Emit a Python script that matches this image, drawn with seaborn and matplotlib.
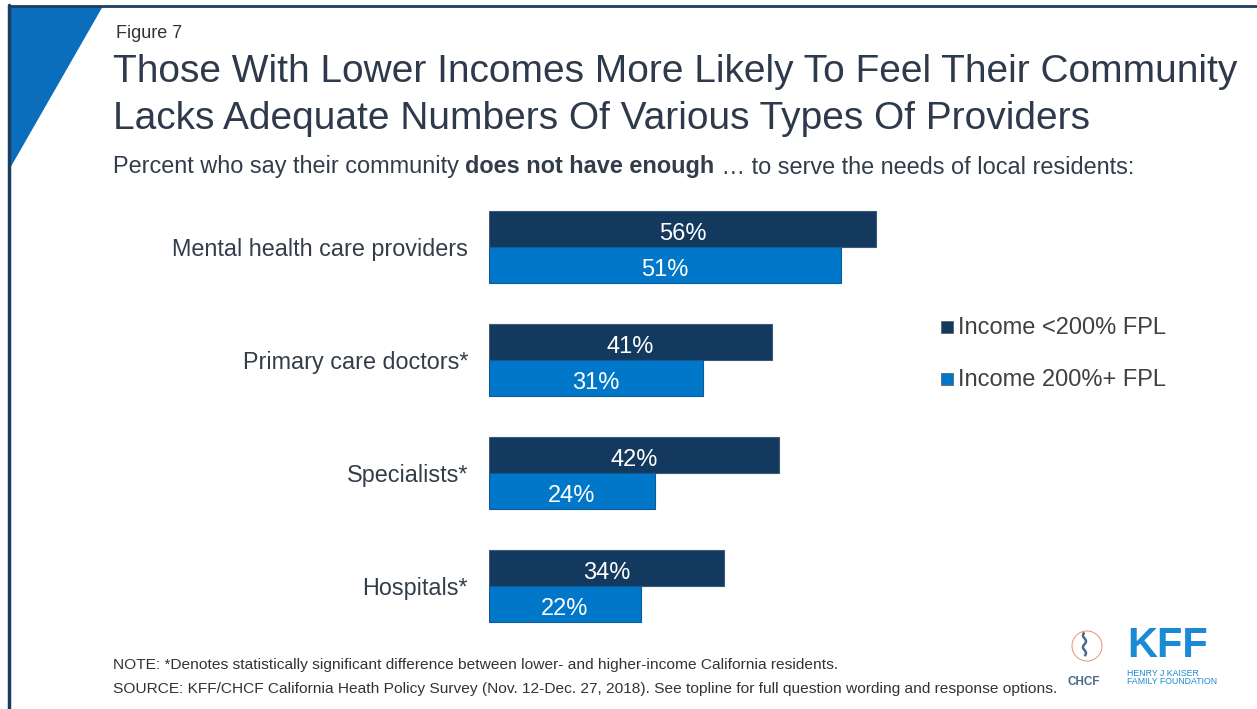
import matplotlib
matplotlib.use("Agg")
import matplotlib.pyplot as plt
import seaborn as sns
import pandas as pd
from matplotlib.patches import Polygon, Rectangle, Ellipse

sns.set_theme(style="white")
plt.rcParams['font.family'] = ['Liberation Sans', 'DejaVu Sans']

categories = ["Mental health care providers", "Primary care doctors*", "Specialists*", "Hospitals*"]
series_names = ["Income <200% FPL", "Income 200%+ FPL"]
low_income = [56, 41, 42, 34]
high_income = [51, 31, 24, 22]
colors = ["#133a5e", "#0077c8"]

df = pd.DataFrame({
    "category": categories * 2,
    "group": [series_names[0]] * 4 + [series_names[1]] * 4,
    "value": low_income + high_income,
})

W, H = 1257, 709
fig = plt.figure(figsize=(W / 100, H / 100), dpi=100)

# axes placement (pixels)
x0_px, px_per_pct = 489, 6.91
xmax = 60
ax_w = xmax * px_per_pct
top_px, bot_px = 190.5, 642.5
ax = fig.add_axes([x0_px / W, 1 - bot_px / H, ax_w / W, (bot_px - top_px) / H])

sns.barplot(data=df, y="category", x="value", hue="group", order=categories,
            hue_order=series_names, palette=colors, orient="h", width=0.637,
            ax=ax, legend=False, saturation=1)
for i, p in enumerate(ax.patches):
    p.set_edgecolor("#3d5a78" if i < 4 else "#105a96")
    p.set_linewidth(0.8)

for cont in ax.containers:
    txts = ax.bar_label(cont, labels=[f"{v:.0f}%" for v in cont.datavalues], label_type="center",
                        color="white", fontsize=17)
    for tx in txts:
        tx.xyann = (0, -3.5)

ax.set_xlim(0, xmax)
ax.set_ylim(3.5, -0.5)
ax.set_xlabel("")
ax.set_ylabel("")
ax.set_xticks([])
ax.tick_params(axis="y", length=0, pad=15, labelsize=16.8, labelcolor="#333d4a")
for s in ax.spines.values():
    s.set_visible(False)
ax.patch.set_alpha(0)

# legend
for j, (name, c) in enumerate(zip(series_names, colors)):
    ypx = 327 + j * 52
    fig.patches.append(Rectangle(((941) / W, 1 - (ypx + 6) / H), 12 / W, 12 / H,
                                 transform=fig.transFigure, facecolor=c,
                                 edgecolor="#555555", linewidth=0.5))
    fig.text(958 / W, 1 - (ypx + 1) / H, name, fontsize=17, color="#404040", va="center", ha="left")

# frame and triangle
fig.patches.append(Polygon([(9 / W, 1 - 6 / H), (103 / W, 1 - 6 / H), (9 / W, 1 - 170 / H)],
                           closed=True, transform=fig.transFigure, facecolor="#0a6ebd",
                           edgecolor="none"))
fig.add_artist(plt.Line2D([9 / W, 1], [1 - 6 / H, 1 - 6 / H], transform=fig.transFigure,
                          color="#1c3d5e", linewidth=2))
fig.add_artist(plt.Line2D([9 / W, 9 / W], [0, 1 - 5 / H], transform=fig.transFigure,
                          color="#1c3d5e", linewidth=2.5))

# titles
fig.text(116 / W, 1 - 34 / H, "Figure 7", fontsize=13, color="#333333", va="center")
fig.text(113 / W, 1 - 72 / H, "Those With Lower Incomes More Likely To Feel Their Community",
         fontsize=28, color="#2e3a4b", va="center")
fig.text(113 / W, 1 - 119 / H, "Lacks Adequate Numbers Of Various Types Of Providers",
         fontsize=28, color="#2e3a4b", va="center")
ysub = 1 - 167 / H
t = fig.text(113 / W, ysub, "Percent who say their community ", fontsize=16.9,
             color="#333d4a", va="center")
fig.canvas.draw()
r = fig.canvas.get_renderer()
bb = t.get_window_extent(r)
t2 = fig.text(bb.x1 / W, ysub, "does not have enough", fontsize=16.9,
              color="#333d4a", va="center", fontweight="bold")
bb2 = t2.get_window_extent(r)
fig.text(bb2.x1 / W, ysub, " … to serve the needs of local residents:", fontsize=16.9,
         color="#333d4a", va="center")

# notes
fig.text(113 / W, 1 - 665 / H,
         "NOTE: *Denotes statistically significant difference between lower- and higher-income California residents.",
         fontsize=11.15, color="#333333", va="center")
fig.text(113 / W, 1 - 689 / H,
         "SOURCE: KFF/CHCF California Heath Policy Survey (Nov. 12-Dec. 27, 2018). See topline for full question wording and response options.",
         fontsize=11.15, color="#333333", va="center")

# logos (approximations)
fig.patches.append(Ellipse((1087 / W, 1 - 646 / H), 30 / W, 30 / H, transform=fig.transFigure,
                           facecolor="none", edgecolor="#e8a07a", linewidth=0.8))
fig.text(1084 / W, 1 - 682 / H, "CHCF", fontsize=8.5, fontweight="bold", color="#4a6a88",
         ha="center", va="center")
fig.text(1084 / W, 1 - 648 / H, "⌇", fontsize=22, color="#4a6a88", ha="center", va="center")
fig.text(1168 / W, 1 - 646 / H, "KFF", fontsize=30, fontweight="bold", color="#1a8ad4",
         ha="center", va="center")
fig.text(1127 / W, 1 - 673 / H, "HENRY J KAISER", fontsize=6.3, color="#1a8ad4", ha="left", va="center")
fig.text(1127 / W, 1 - 682 / H, "FAMILY FOUNDATION", fontsize=6.3, color="#1a8ad4", ha="left", va="center")

fig.savefig("out.png", dpi=100, facecolor="white")
